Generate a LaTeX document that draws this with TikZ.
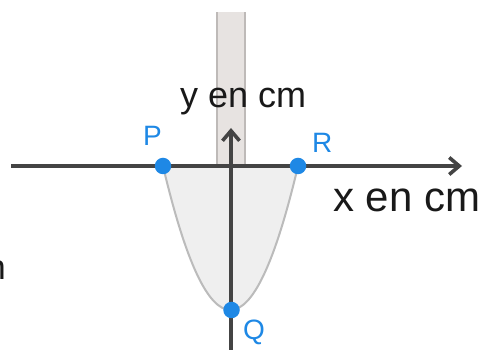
\documentclass[tikz,border=0pt]{standalone}
\usepackage{fontspec}
\setmainfont{Liberation Sans}
\usetikzlibrary{arrows.meta}
\definecolor{axisc}{HTML}{444444}
\definecolor{dotc}{HTML}{1E88E5}
\definecolor{tubefill}{HTML}{E7E3E1}
\definecolor{tubeline}{HTML}{BEBAB8}
\definecolor{parafill}{HTML}{EFEFEF}
\definecolor{paraline}{HTML}{BBBBBB}
\tikzset{
  axisline/.style={draw=axisc, line width=3.8pt, -{Straight Barb[length=10pt,width=17pt,line width=3.6pt]}},
  dotnode/.style={circle, fill=dotc, inner sep=0pt, minimum size=16.5pt},
  ptlabel/.style={text=dotc, font=\fontsize{28}{32}\selectfont, inner sep=0pt, anchor=base west},
  axlabel/.style={text=black!90, inner sep=0pt, anchor=base west},
}
\begin{document}
\begin{tikzpicture}[x=1pt,y=1pt]
\useasboundingbox (0,0) rectangle (481,350);
% tube
\fill[tubefill] (217,184) rectangle (245,338);
\draw[tubeline, line width=2pt] (217,184) -- (217,338);
\draw[tubeline, line width=2pt] (245,184) -- (245,338);
% points
\coordinate (Pc) at (163,184);
\coordinate (Rc) at (298,184);
% parabola
\path[fill=parafill] (Pc) .. controls (208.3,-8) and (252.7,-8) .. (Rc) -- cycle;
\draw[paraline, line width=2pt] (Pc) .. controls (208.3,-8) and (252.7,-8) .. (Rc);
% axes
\coordinate (xl) at (11,184);
\coordinate (xr) at (462,184);
\coordinate (yb) at (231,0);
\coordinate (yt) at (231,222);
\draw[axisline] (xl) -- (xr);
\draw[axisline] (yb) -- (yt);
% dots
\node[dotnode] (P) at (Pc) {};
\node[dotnode] (R) at (Rc) {};
\node[dotnode] (Q) at (231.5,40) {};
% labels
\node[ptlabel] (Pl) at (143,204) {P};
\node[ptlabel] (Rl) at (312,197) {R};
\node[ptlabel] (Ql) at (243,10) {Q};
\node[axlabel, font=\fontsize{36}{40}\selectfont] (ylab) at (180,242) {y en cm};
\node[axlabel, font=\fontsize{42}{46}\selectfont] (xlab) at (333,138) {x en cm};
\node[text=black!90, inner sep=0pt, anchor=base east, font=\fontsize{35}{40}\selectfont] (frag) at (6,70) {n};
\end{tikzpicture}
\end{document}
